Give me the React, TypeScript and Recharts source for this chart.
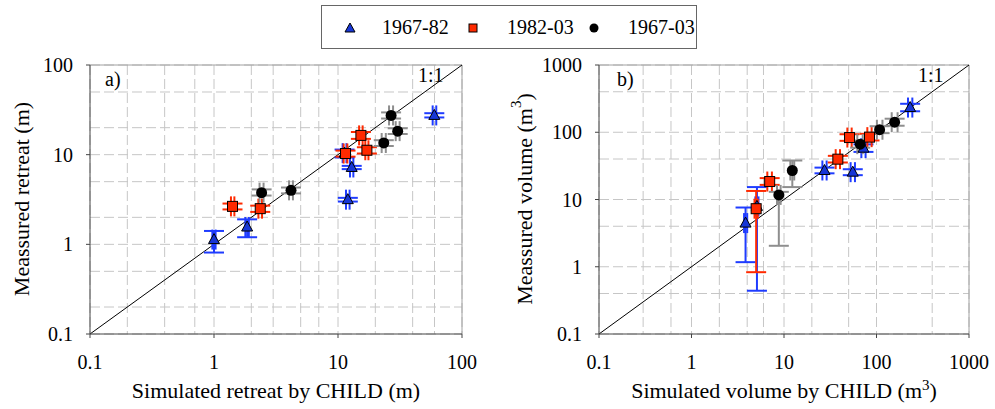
import React from "react";
import {
  ScatterChart,
  Scatter,
  XAxis,
  YAxis,
  CartesianGrid,
  ErrorBar,
  ReferenceLine,
  Label,
} from "recharts";

const FONT = "Liberation Serif, Tinos, Times New Roman, Times, DejaVu Serif, serif";

const seriesNames = ["1967-82", "1982-03", "1967-03"];
const retreatTicks = [0.1, 1, 10, 100];
const volumeTicks = [0.1, 1, 10, 100, 1000];
const gridSteps = [1, 2, 3, 4, 5, 6, 7, 8, 9];

// rows: [simulated, measured, simLow, simHigh, measLow, measHigh]
type Row = [number, number, number, number, number, number];

// panel a) retreat (m)
const retreat6782: Row[] = [
  [1.0, 1.13, 0.97, 1.03, 0.81, 1.41],
  [1.85, 1.56, 1.79, 1.91, 1.2, 1.9],
  [11.3, 10.4, 10.9, 11.7, 9.3, 11.4],
  [12.9, 7.2, 12.5, 13.3, 6.9, 7.5],
  [12.0, 3.15, 11.6, 12.4, 3.0, 3.3],
  [59.8, 27.4, 58, 62, 26, 29],
];
const retreat8203: Row[] = [
  [1.41, 2.65, 1.37, 1.46, 2.45, 2.85],
  [2.36, 2.5, 2.28, 2.44, 2.3, 2.7],
  [11.5, 10.3, 11.1, 11.9, 9.5, 11.1],
  [15.3, 16.4, 14.8, 15.8, 15.0, 17.9],
  [17.1, 11.2, 16.6, 17.6, 10.3, 12.1],
];
const retreat6703: Row[] = [
  [2.42, 3.77, 2.33, 2.51, 3.5, 4.1],
  [4.18, 4.0, 4.03, 4.33, 3.7, 4.3],
  [23.4, 13.5, 22.5, 24.3, 12.5, 14.5],
  [26.8, 27.4, 25.8, 27.8, 25.3, 29.6],
  [30.3, 18.3, 29.2, 31.4, 17.0, 19.7],
];

// panel b) volume (m3)
const volume6782: Row[] = [
  [3.84, 4.46, 3.7, 4.0, 1.17, 7.6],
  [5.1, 7.9, 4.9, 5.3, 0.44, 15.3],
  [27.4, 27.0, 26.0, 28.9, 24.5, 29.8],
  [55.4, 25.5, 52.5, 58.5, 23, 28.2],
  [72.3, 58, 68.6, 76.2, 51, 66],
  [231, 233, 219, 244, 205, 265],
];
const volume8203: Row[] = [
  [5.0, 7.3, 4.8, 5.2, 0.83, 13.4],
  [7.0, 18.5, 6.6, 7.4, 16.5, 20.8],
  [38.2, 39.8, 36.2, 40.3, 35.5, 44.6],
  [51.1, 83.4, 48.4, 53.9, 74.5, 93.4],
  [84, 84.6, 79.6, 88.6, 75.5, 94.8],
];
const volume6703: Row[] = [
  [8.79, 11.7, 8.4, 9.2, 2.05, 13],
  [12.3, 27, 11.7, 12.9, 15.3, 38],
  [66.6, 66.5, 62, 71, 59, 75],
  [108, 109, 101, 116, 97, 123],
  [157, 141, 146, 169, 125, 159],
];

const toPoints = (rows: Row[]) =>
  rows.map(([x, y, xl, xh, yl, yh]) => ({
    x,
    y,
    ex: [x - xl, xh - x],
    ey: [y - yl, yh - y],
  }));

const gridValues = (ticks: number[]) => {
  const out: number[] = [];
  ticks.slice(0, -1).forEach((d) =>
    gridSteps.forEach((m) => out.push(+(d * m).toPrecision(3)))
  );
  out.push(ticks[ticks.length - 1]);
  return out;
};

const BLUE = "#1f3cff";
const RED = "#ff2a00";
const GREY = "#8e8e8e";

const Tri = (p: any) => (
  <polygon
    points={`${p.cx},${p.cy - 6} ${p.cx + 5.5},${p.cy + 4} ${p.cx - 5.5},${p.cy + 4}`}
    fill="#1736d6"
    stroke="#000"
    strokeWidth={1}
  />
);
const Sq = (p: any) => (
  <rect x={p.cx - 5} y={p.cy - 5} width={10} height={10} fill={RED} stroke="#000" strokeWidth={1} />
);
const Dot = (p: any) => <circle cx={p.cx} cy={p.cy} r={5.5} fill="#000" />;

const tickStyle = { fontFamily: FONT, fontSize: 20, fill: "#000" };

function XTitle({ viewBox, text, sup }: any) {
  return (
    <text
      x={viewBox.x + viewBox.width / 2}
      y={398}
      textAnchor="middle"
      style={{ fontFamily: FONT, fontSize: 22 }}
      fill="#000"
    >
      {text}
      {sup && (
        <>
          <tspan dy={-8} style={{ fontSize: 15 }}>3</tspan>
          <tspan dy={8}>)</tspan>
        </>
      )}
    </text>
  );
}

function YTitle({ x, text, sup }: any) {
  return (
    <text
      x={x}
      y={199}
      transform={`rotate(-90 ${x} 199)`}
      textAnchor="middle"
      dominantBaseline="central"
      style={{ fontFamily: FONT, fontSize: 22 }}
      fill="#000"
    >
      {text}
      {sup && (
        <>
          <tspan dy={-8} style={{ fontSize: 15 }}>3</tspan>
          <tspan dy={8}>)</tspan>
        </>
      )}
    </text>
  );
}

function Panel({
  width,
  margin,
  ticks,
  series,
  xTitle,
  yTitle,
  sup,
  yTitleX,
}: any) {
  const max = ticks[ticks.length - 1];
  const min = ticks[0];
  const grid = gridValues(ticks);
  const styles = [
    { shape: Tri, color: BLUE },
    { shape: Sq, color: RED },
    { shape: Dot, color: GREY },
  ];
  return (
    <ScatterChart width={width} height={409} margin={margin} style={{ fontFamily: FONT }}>
      <CartesianGrid
        stroke="#c6c6c6"
        strokeDasharray="10 4"
        horizontalValues={grid}
        verticalValues={grid}
      />
      <XAxis
        type="number"
        dataKey="x"
        scale="log"
        domain={[min, max]}
        ticks={ticks}
        allowDataOverflow
        height={30}
        tickSize={4}
        tickMargin={17}
        tick={tickStyle}
        stroke="#444"
        tickFormatter={(v) => String(v)}
      >
        <Label content={(p: any) => <XTitle viewBox={p.viewBox} text={xTitle} sup={sup} />} />
      </XAxis>
      <YAxis
        type="number"
        dataKey="y"
        scale="log"
        domain={[min, max]}
        ticks={ticks}
        allowDataOverflow
        width={50}
        tickSize={4}
        tickMargin={13}
        tick={tickStyle}
        stroke="#444"
        tickFormatter={(v) => String(v)}
      >
        <Label content={() => <YTitle x={yTitleX} text={yTitle} sup={sup} />} />
      </YAxis>
      <ReferenceLine y={max} stroke="#a0a0a0" />
      <ReferenceLine x={max} stroke="#a0a0a0" />
      <ReferenceLine
        segment={[
          { x: min, y: min },
          { x: max, y: max },
        ]}
        stroke="#000"
        strokeWidth={1}
      />
      {series.map((rows: Row[], i: number) => (
        <Scatter
          key={seriesNames[i]}
          name={seriesNames[i]}
          data={toPoints(rows)}
          shape={styles[i].shape}
          isAnimationActive={false}
        >
          <ErrorBar dataKey="ex" direction="x" width={10} stroke={styles[i].color} strokeWidth={2} />
          <ErrorBar dataKey="ey" direction="y" width={10} stroke={styles[i].color} strokeWidth={2} />
        </Scatter>
      ))}
    </ScatterChart>
  );
}

const textAbs = (left: number, top: number, size = 20): React.CSSProperties => ({
  position: "absolute",
  left,
  top,
  fontFamily: FONT,
  fontSize: size,
  lineHeight: "22px",
  color: "#000",
  whiteSpace: "nowrap",
});

export default function App() {
  return (
    <div style={{ position: "absolute", left: 0, top: 0, width: 995, height: 409, background: "#fff", fontFamily: FONT }}>
      <div style={{ position: "absolute", left: 0, top: 0 }}>
        <Panel
          width={500}
          margin={{ top: 65, right: 38, bottom: 45, left: 40 }}
          ticks={retreatTicks}
          series={[retreat6782, retreat8203, retreat6703]}
          xTitle="Simulated retreat by CHILD (m)"
          yTitle="Meassured retreat (m)"
          sup={false}
          yTitleX={21}
        />
      </div>
      <div style={{ position: "absolute", left: 500, top: 0 }}>
        <Panel
          width={495}
          margin={{ top: 65, right: 26, bottom: 45, left: 49 }}
          ticks={volumeTicks}
          series={[volume6782, volume8203, volume6703]}
          xTitle="Simulated volume by CHILD (m"
          yTitle="Meassured volume (m"
          sup={true}
          yTitleX={24}
        />
      </div>
      <div style={textAbs(105, 68)}>a)</div>
      <div style={textAbs(617, 68)}>b)</div>
      <div style={textAbs(418, 64)}>1:1</div>
      <div style={textAbs(918, 64)}>1:1</div>
      <div
        style={{
          position: "absolute",
          left: 321,
          top: 5,
          width: 376,
          height: 44,
          boxSizing: "border-box",
          border: "1px solid #666",
          background: "#fff",
        }}
      >
        <svg style={{ position: "absolute", left: 21, top: 15 }} width={14} height={14}>
          <polygon points="7,2 12,11 2,11" fill="#1736d6" stroke="#000" strokeWidth={1} />
        </svg>
        <span style={textAbs(60, 10)}>{seriesNames[0]}</span>
        <svg style={{ position: "absolute", left: 144, top: 15 }} width={14} height={14}>
          <rect x={3} y={3} width={8} height={8} fill={RED} stroke="#000" strokeWidth={1} />
        </svg>
        <span style={textAbs(185, 10)}>{seriesNames[1]}</span>
        <svg style={{ position: "absolute", left: 265, top: 15 }} width={14} height={14}>
          <circle cx={7} cy={7} r={4.5} fill="#000" />
        </svg>
        <span style={textAbs(306, 10)}>{seriesNames[2]}</span>
      </div>
    </div>
  );
}
